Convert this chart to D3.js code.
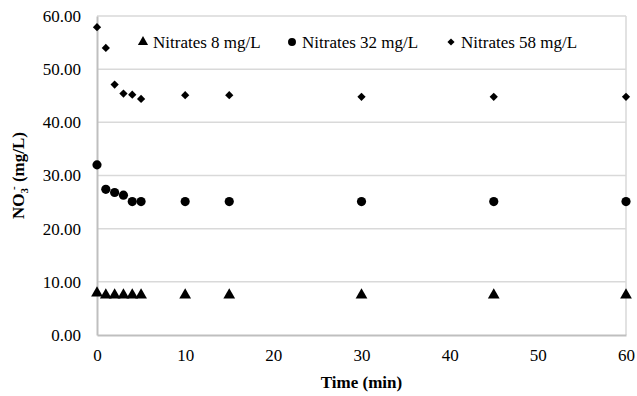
<!DOCTYPE html>
<html>
<head>
<meta charset="utf-8">
<script src="https://cdn.jsdelivr.net/npm/d3@7"></script>
</head>
<body style="margin:0; background:#fff">
<div id="chart"></div>
<script>
// Data
const times = [0, 1, 2, 3, 4, 5, 10, 15, 30, 45, 60];
const nitrates8 = [7.9, 7.5, 7.5, 7.5, 7.5, 7.5, 7.5, 7.5, 7.5, 7.5, 7.5];
const nitrates32 = [32.0, 27.4, 26.8, 26.3, 25.1, 25.1, 25.1, 25.1, 25.1, 25.1, 25.1];
const nitrates58 = [57.9, 54.0, 47.1, 45.4, 45.2, 44.4, 45.1, 45.1, 44.8, 44.8, 44.8];
const seriesNames = ['Nitrates 8 mg/L', 'Nitrates 32 mg/L', 'Nitrates 58 mg/L'];
const xTicks = [0, 10, 20, 30, 40, 50, 60];
const yTicks = [0, 10, 20, 30, 40, 50, 60];

const FONT = "'Liberation Serif', serif";

const config = {
  width: 637,
  height: 396,
  margin: { top: 16, right: 11, bottom: 61, left: 97 }
};

const series = [
  { name: seriesNames[0], values: nitrates8, symbol: d3.symbolTriangle, size: 60, rot: 0 },
  { name: seriesNames[1], values: nitrates32, symbol: d3.symbolCircle, size: 66, rot: 0 },
  { name: seriesNames[2], values: nitrates58, symbol: d3.symbolSquare, size: 34, rot: 45 }
];

const svg = d3.select("#chart")
    .append("svg")
    .attr("width", config.width)
    .attr("height", config.height)
    .attr("font-family", "Liberation Serif");

const plotW = config.width - config.margin.left - config.margin.right;
const plotH = config.height - config.margin.top - config.margin.bottom;

const x = d3.scaleLinear().domain([0, 60]).range([config.margin.left, config.margin.left + plotW]);
const y = d3.scaleLinear().domain([0, 60]).range([config.margin.top + plotH, config.margin.top]);

// Gridlines
svg.append("g")
    .selectAll("line")
    .data(yTicks.filter(d => d > 0))
    .enter()
    .append("line")
    .attr("x1", x(0))
    .attr("x2", x(60))
    .attr("y1", d => y(d))
    .attr("y2", d => y(d))
    .attr("stroke", "#d9d9d9")
    .attr("stroke-width", 1.5);

// Right border
svg.append("line")
    .attr("x1", x(60)).attr("x2", x(60))
    .attr("y1", y(60)).attr("y2", y(0))
    .attr("stroke", "#d9d9d9")
    .attr("stroke-width", 1.5);

// Axes
const xAxis = svg.append("g")
    .attr("transform", `translate(0,${y(0)})`)
    .call(d3.axisBottom(x).tickValues(xTicks).tickSize(0).tickPadding(14));
const yAxis = svg.append("g")
    .attr("transform", `translate(${x(0)},0)`)
    .call(d3.axisLeft(y).tickValues(yTicks).tickSize(0).tickPadding(16).tickFormat(d3.format(".2f")));

[xAxis, yAxis].forEach(g => {
  g.attr("font-family", "Liberation Serif").attr("font-size", 17);
  g.select(".domain").attr("stroke", "#bfbfbf").attr("stroke-width", 2);
  g.selectAll("text")
      .style("font-family", FONT)
      .style("font-size", "17px")
      .attr("fill", "#000");
});

// Points
series.forEach(s => {
  svg.append("g")
      .selectAll("path")
      .data(times.map((t, i) => ({ t, v: s.values[i] })))
      .enter()
      .append("path")
      .attr("d", d3.symbol().type(s.symbol).size(s.size))
      .attr("transform", d => `translate(${x(d.t)},${y(d.v)}) rotate(${s.rot})`)
      .attr("fill", "#000");
});

// Legend
const legendPos = [143, 292, 451];
series.forEach((s, i) => {
  const g = svg.append("g").attr("transform", `translate(${legendPos[i]},42)`);
  g.append("path")
      .attr("d", d3.symbol().type(s.symbol).size(s.size * 0.75))
      .attr("transform", `rotate(${s.rot})`)
      .attr("fill", "#000");
  g.append("text")
      .attr("x", 10)
      .attr("y", 5.5)
      .style("font-family", FONT)
      .style("font-size", "17px")
      .text(s.name);
});

// Axis titles
svg.append("text")
    .attr("x", x(30))
    .attr("y", 388)
    .attr("text-anchor", "middle")
    .style("font-family", FONT)
    .style("font-size", "17px")
    .style("font-weight", "bold")
    .text("Time (min)");

const yLabel = svg.append("text")
    .attr("transform", `translate(24,${y(30)}) rotate(-90)`)
    .attr("text-anchor", "middle")
    .style("font-family", FONT)
    .style("font-size", "17px")
    .style("font-weight", "bold");
yLabel.append("tspan").text("NO");
yLabel.append("tspan").attr("dy", 4).style("font-size", "11px").text("3");
yLabel.append("tspan").attr("dy", -11).attr("dx", -2).style("font-size", "11px").text("-");
yLabel.append("tspan").attr("dy", 7).text(" (mg/L)");
</script>
</body>
</html>
